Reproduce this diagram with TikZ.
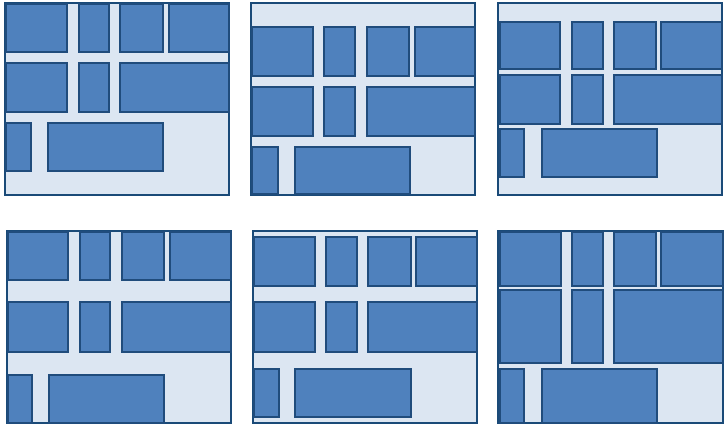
\documentclass[tikz,border=0pt]{standalone}
\definecolor{contfill}{HTML}{DCE6F2}
\definecolor{contline}{HTML}{1A4A78}
\definecolor{itemfill}{HTML}{4F81BD}
\definecolor{itemline}{HTML}{204C7C}
\begin{document}
\begin{tikzpicture}[x=1pt,y=-1pt,
  container/.style={fill=contfill,draw=contline,line width=1.8pt},
  itembox/.style={fill=itemfill,draw=itemline,line width=1.5pt}]
\useasboundingbox (0,0) rectangle (727,431);
% Panel 1 (flex-start)
\draw[container] (5,3) rectangle (229,195);
\draw[itembox] (6,4) rectangle (67,52);
\draw[itembox] (79,4) rectangle (109,52);
\draw[itembox] (120,4) rectangle (163,52);
\draw[itembox] (169,4) rectangle (229,52);
\draw[itembox] (6,63) rectangle (67,112);
\draw[itembox] (79,63) rectangle (109,112);
\draw[itembox] (120,63) rectangle (229,112);
\draw[itembox] (6,123) rectangle (31,171);
\draw[itembox] (48,123) rectangle (163,171);
% Panel 2 (flex-end)
\draw[container] (251,3) rectangle (475,195);
\draw[itembox] (252,27) rectangle (313,76);
\draw[itembox] (324,27) rectangle (355,76);
\draw[itembox] (367,27) rectangle (409,76);
\draw[itembox] (415,27) rectangle (475,76);
\draw[itembox] (252,87) rectangle (313,136);
\draw[itembox] (324,87) rectangle (355,136);
\draw[itembox] (367,87) rectangle (475,136);
\draw[itembox] (252,147) rectangle (278,194);
\draw[itembox] (295,147) rectangle (410,194);
% Panel 3 (center)
\draw[container] (498,3) rectangle (722,195);
\draw[itembox] (500,22) rectangle (560,69);
\draw[itembox] (572,22) rectangle (603,69);
\draw[itembox] (614,22) rectangle (656,69);
\draw[itembox] (661,22) rectangle (722,69);
\draw[itembox] (500,75) rectangle (560,124);
\draw[itembox] (572,75) rectangle (603,124);
\draw[itembox] (614,75) rectangle (722,124);
\draw[itembox] (500,129) rectangle (524,177);
\draw[itembox] (542,129) rectangle (657,177);
% Panel 4 (space-between)
\draw[container] (7,231) rectangle (231,423);
\draw[itembox] (8,232) rectangle (68,280);
\draw[itembox] (80,232) rectangle (110,280);
\draw[itembox] (122,232) rectangle (164,280);
\draw[itembox] (170,232) rectangle (231,280);
\draw[itembox] (8,302) rectangle (68,352);
\draw[itembox] (80,302) rectangle (110,352);
\draw[itembox] (122,302) rectangle (231,352);
\draw[itembox] (8,375) rectangle (32,423);
\draw[itembox] (49,375) rectangle (164,423);
% Panel 5 (space-around)
\draw[container] (253,231) rectangle (477,423);
\draw[itembox] (254,237) rectangle (315,286);
\draw[itembox] (326,237) rectangle (357,286);
\draw[itembox] (368,237) rectangle (411,286);
\draw[itembox] (416,237) rectangle (477,286);
\draw[itembox] (254,302) rectangle (315,352);
\draw[itembox] (326,302) rectangle (357,352);
\draw[itembox] (368,302) rectangle (477,352);
\draw[itembox] (254,369) rectangle (279,417);
\draw[itembox] (295,369) rectangle (411,417);
% Panel 6 (stretch)
\draw[container] (498,231) rectangle (723,423);
\draw[itembox] (500,232) rectangle (561,286);
\draw[itembox] (572,232) rectangle (603,286);
\draw[itembox] (614,232) rectangle (656,286);
\draw[itembox] (661,232) rectangle (723,286);
\draw[itembox] (500,290) rectangle (561,363);
\draw[itembox] (572,290) rectangle (603,363);
\draw[itembox] (614,290) rectangle (723,363);
\draw[itembox] (500,369) rectangle (524,423);
\draw[itembox] (542,369) rectangle (657,423);
\end{tikzpicture}
\end{document}
